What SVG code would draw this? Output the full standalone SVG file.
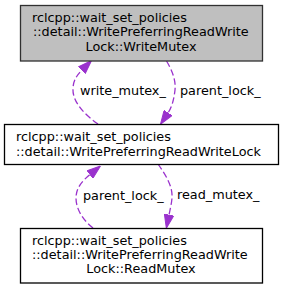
<svg xmlns="http://www.w3.org/2000/svg" width="283" height="289" viewBox="0 0 283 289">
<defs>
<style>
text{font-family:"DejaVu Sans","Liberation Sans",sans-serif;font-size:12.8px;fill:#000}
.box{fill:#fff;stroke:#000;stroke-width:1.3}
.cur{fill:#bfbfbf;stroke:#303030;stroke-width:1.3}
.edge{fill:none;stroke:#9a32cd;stroke-width:1.3;stroke-dasharray:6.5,3;marker-end:url(#arr)}
.m{text-anchor:middle}
</style>
<marker id="arr" markerUnits="userSpaceOnUse" markerWidth="14" markerHeight="10" viewBox="0 0 13.5 10" refX="0" refY="5" orient="auto">
<path d="M0,0.3 L13.5,5 L0,9.7 Z" fill="#9a32cd" stroke="#9a32cd" stroke-width="1"/>
</marker>
</defs>
<g id="edges">
<path class="edge" d="M98,124 C85,115 72,102 73,88 C73.5,80 77,75 82,70"/>
<path class="edge" d="M166.5,61 C172,70 176,80 175,90 C174,99 172,107 168,113"/>
<path class="edge" d="M93,228 C84,221 76,210 76,198 C76,188 82,181 90,174.5"/>
<path class="edge" d="M158,164 C165,174 173,186 172,198 C171.5,204 170,210 169,215"/>
<text x="80" y="95">write_mutex_</text>
<text x="180" y="95">parent_lock_</text>
<text x="83" y="200">parent_lock_</text>
<text x="177" y="199">read_mutex_</text>
</g>
<g id="node-writemutex">
<rect class="cur" x="20.5" y="5.5" width="242" height="55.5"/>
<text x="32" y="21.5">rclcpp::wait_set_policies</text>
<text x="33" y="36">::detail::WritePreferringReadWrite</text>
<text class="m" x="141" y="50.5">Lock::WriteMutex</text>
</g>
<g id="node-lock">
<rect class="box" x="4.5" y="124.5" width="274" height="40"/>
<text x="16" y="141">rclcpp::wait_set_policies</text>
<text x="16" y="155.5">::detail::WritePreferringReadWriteLock</text>
</g>
<g id="node-readmutex">
<rect class="box" x="20.5" y="228.5" width="242" height="54.5"/>
<text x="32" y="244.5">rclcpp::wait_set_policies</text>
<text x="32" y="258.5">::detail::WritePreferringReadWrite</text>
<text class="m" x="141" y="272.5">Lock::ReadMutex</text>
</g>
</svg>
